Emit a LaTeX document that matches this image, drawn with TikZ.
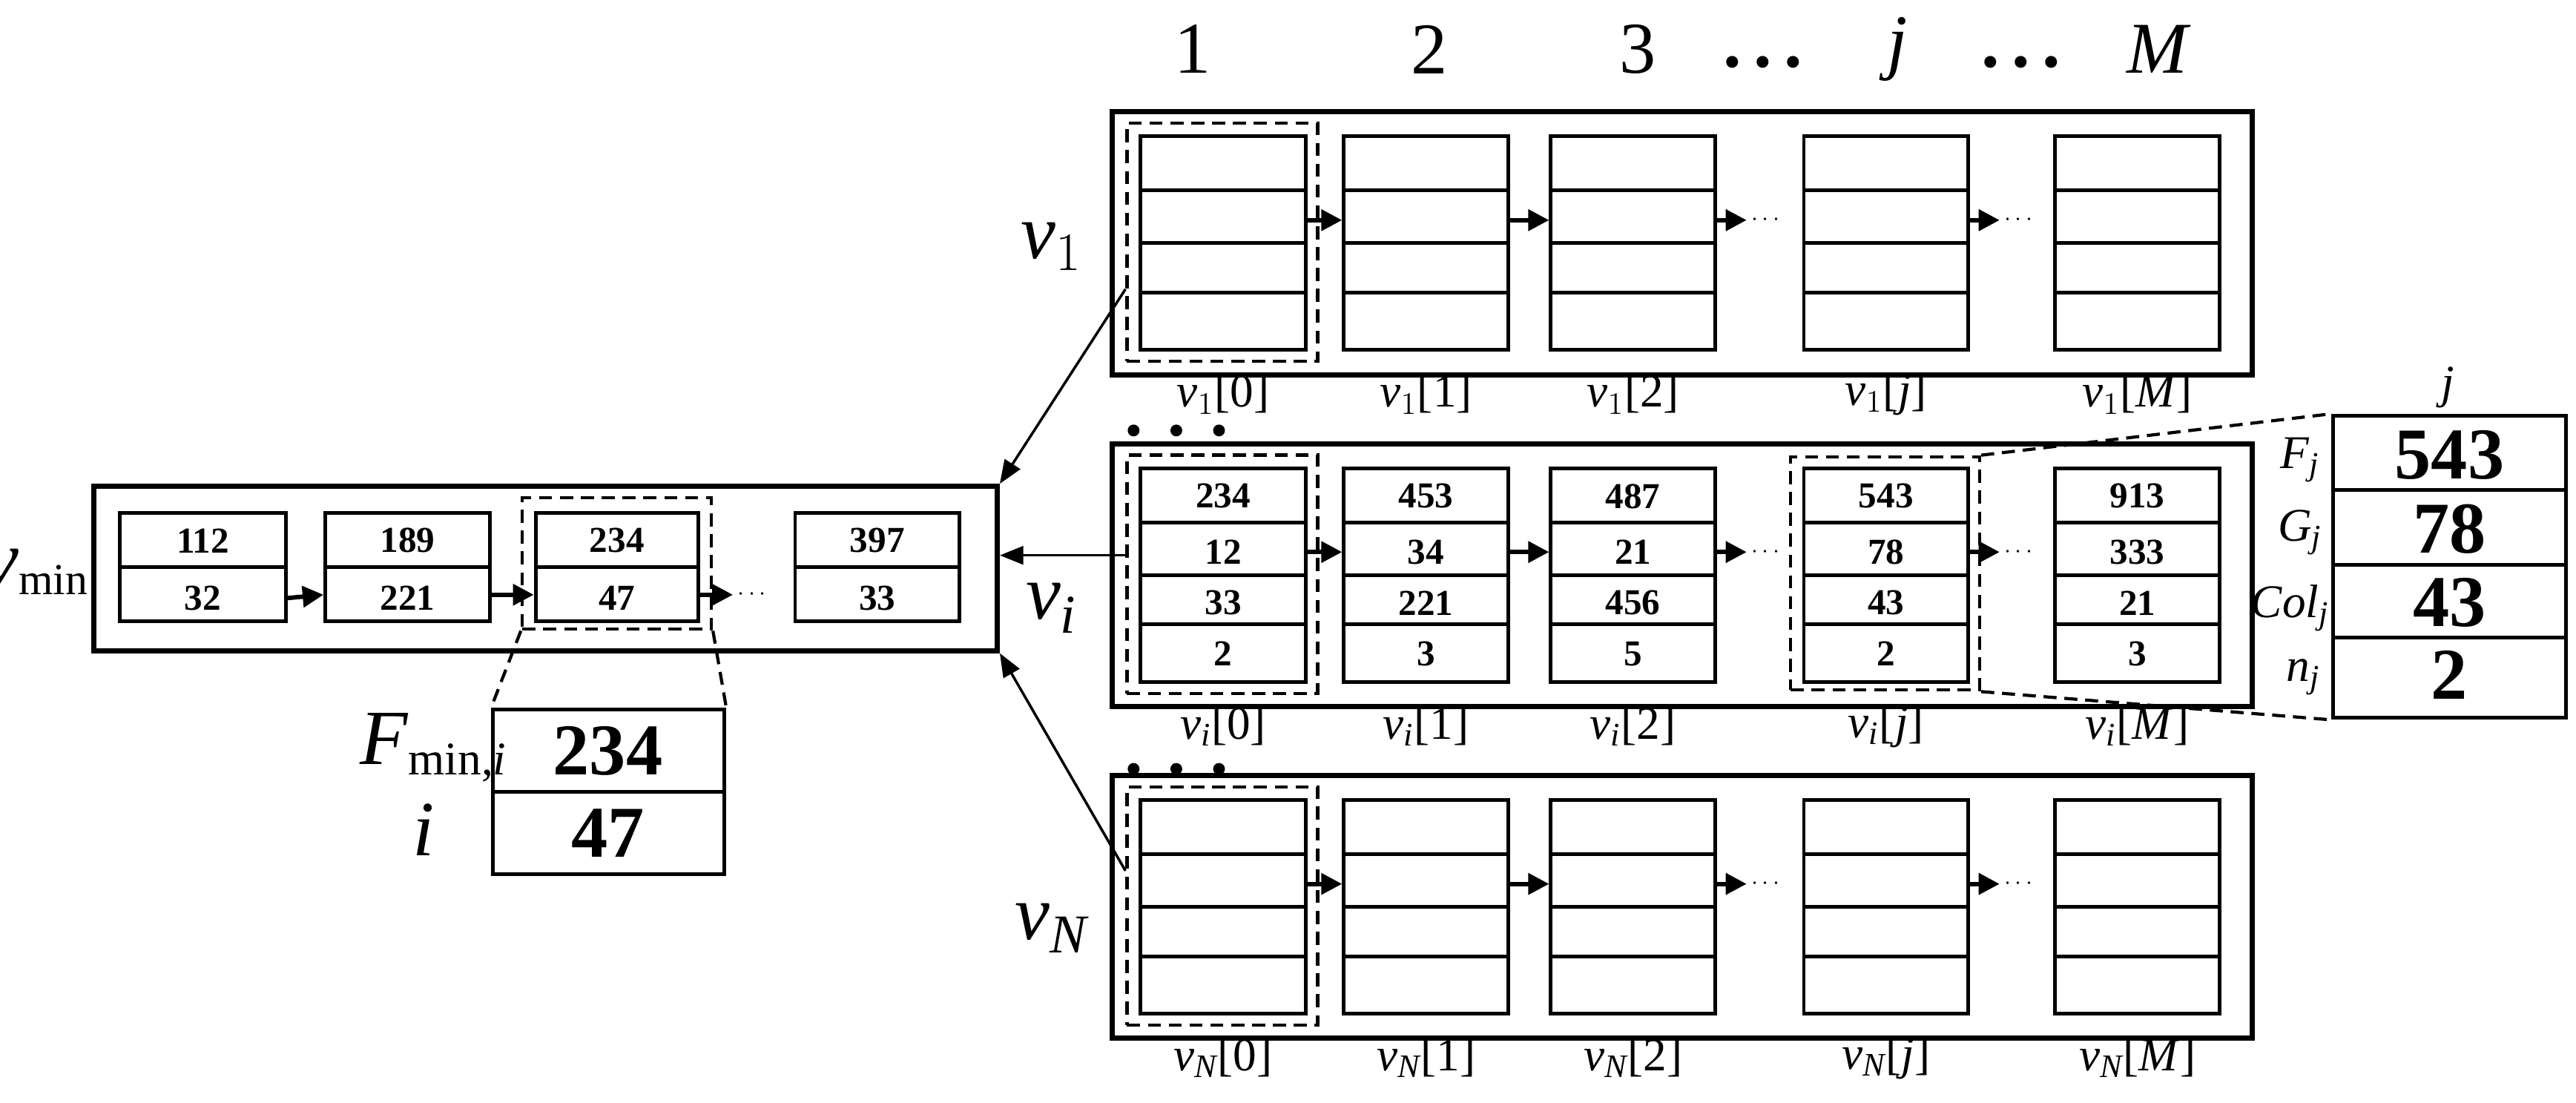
\documentclass[tikz,border=0pt]{standalone}
\usepackage{amsmath}
\usepackage{fontspec}
\setmainfont{Liberation Serif}
\usetikzlibrary{fit,calc,arrows.meta}
\newcommand\iv[1]{\ensuremath{\textit{v}_{#1}}}
\begin{document}
\begin{tikzpicture}[x=0.02215cm,y=-0.02215cm,
  cell/.style={draw,line width=1.4pt,inner sep=0},
  frame/.style={draw,line width=2pt,inner sep=0},
  dbox/.style={draw,dash pattern=on 5pt off 3pt,line width=1.2pt,inner sep=0},
  dline/.style={dash pattern=on 5pt off 3pt,line width=1.2pt},
  arr/.style={-{Triangle[length=8pt,width=8pt]},line width=1.7pt},
  big/.style={-{Triangle[length=9pt,width=7pt]},line width=1pt},
  num/.style={font=\bfseries\fontsize{14}{14}\selectfont},
  bnum/.style={font=\bfseries\fontsize{28}{28}\selectfont},
  lab/.style={font=\fontsize{18}{18}\selectfont},
  rlab/.style={font=\fontsize{30}{30}\selectfont},
  head/.style={font=\fontsize{28}{28}\selectfont}]
\useasboundingbox (0,0) rectangle (1568,671);
% column headers
\foreach \t/\x in {1/726,2/870,3/997,$\textit{j}$/1155,$\textit{M}$/1313}
  \node[head] (h\x) at (\x,30) {\t};
\foreach \x in {1073,1230} \node[head] (hd\x) at (\x,38) {\textbf{.\,.\,.}};
% three rows
\foreach \r/\sb/\y/\ly in {1/1/68/150,i/\textit{i}/270/370,N/\textit{N}/472/565}{
  \node[frame,fit={(677,\y)(1371,\y+160)}] (F\r) {};
  \node[rlab] (L\r) at (640,\ly) {\iv{\sb}};
  \foreach \c/\xa/\xb/\l in {0/694/795/0,1/818/918/1,2/944/1044/2,3/1098/1198/\textit{j},4/1251/1351/\textit{M}}{
    \node[cell,fit={(\xa,\y+15)(\xb,\y+145)}] (c\r\c) {};
    \foreach \s in {48,80,110} \draw[line width=1.4pt] (\xa,\y+\s) -- (\xb,\y+\s);
    \node[lab] (l\r\c) at ({(\xa+\xb)/2},\y+172) {\iv{\sb}[\l]};
  }
  \node[dbox,fit={(686,\y+7)(802,\y+152)}] (D\r) {};
  \draw[arr] ($(c\r0.east)+(0,-14)$) -- ($(c\r1.west)+(0,-14)$);
  \draw[arr] ($(c\r1.east)+(0,-14)$) -- ($(c\r2.west)+(0,-14)$);
  \draw[arr] ($(c\r2.east)+(0,-14)$) -- ++(18,0) node[right,inner sep=1pt,font=\small] (e\r2) {$\cdots$};
  \draw[arr] ($(c\r3.east)+(0,-14)$) -- ++(18,0) node[right,inner sep=1pt,font=\small] (e\r3) {$\cdots$};
}
\foreach \y in {262,468} \foreach \x in {690,716,742} \fill (\x,\y) circle (3.6);
% values in v_i
\foreach \c/\a/\b/\cc/\d in {0/234/12/33/2,1/453/34/221/3,2/487/21/456/5,3/543/78/43/2,4/913/333/21/3}{
  \node[num] at (ci\c.center |- 0,302) {\a};
  \node[num] at (ci\c.center |- 0,336) {\b};
  \node[num] at (ci\c.center |- 0,367) {\cc};
  \node[num] at (ci\c.center |- 0,398) {\d};
}
% zoom of v_i[j]
\node[dbox,fit={(1090,278)(1205,420)}] (Dj) {};
\node[cell,fit={(1420,253)(1562,437)}] (Z) {};
\foreach \s in {298,344,388} \draw[line width=1.4pt] (1420,\s) -- (1562,\s);
\draw[dline] (Dj.north east) -- (Z.north west);
\draw[dline] (Dj.south east) -- (Z.south west);
\node[lab] (zj) at (1490,236) {\textit{j}};
\node[bnum] at (1491,277) {543};
\node[bnum] at (1491,322) {78};
\node[bnum] at (1491,367) {43};
\node[bnum] at (1491,411) {2};
\node[lab] at (1400,280) {\textit{F}$_{\textit{j}}$};
\node[lab] at (1400,324) {\textit{G}$_{\textit{j}}$};
\node[lab] at (1394,370) {\textit{Col}$_{\textit{j}}$};
\node[lab] at (1402,412) {\textit{n}$_{\textit{j}}$};
% v_min
\node[frame,fit={(57,296)(607,396)}] (Fm) {};
\node[rlab,anchor=east,inner sep=1pt] (Lm) at (56,348) {\iv{\text{\fontsize{17}{17}\selectfont min}}};
\foreach \n/\xa/\xb/\a/\b in {1/73/174/112/32,2/198/298/189/221,3/326/425/234/47,4/484/584/397/33}{
  \node[cell,fit={(\xa,312)(\xb,378)}] (m\n) {};
  \draw[line width=1.4pt] (\xa,345) -- (\xb,345);
  \node[num] at ({(\xa+\xb)/2},329) {\a};
  \node[num] at ({(\xa+\xb)/2},364) {\b};
}
\draw[arr] (m1.east |- 0,364) -- (m2.west |- 0,362);
\draw[arr] (m2.east |- 0,362) -- (m3.west |- 0,362);
\draw[arr] (m3.east |- 0,362) -- ++(20,0) node[right,inner sep=1pt,font=\small] (em) {$\cdots$};
\node[dbox,fit={(318,303)(433,383)}] (Dm) {};
\node[cell,fit={(300,432)(441,532)}] (Zm) {};
\draw[line width=1.4pt] (300,482) -- (441,482);
\draw[dline] (Dm.south west) -- (Zm.north west);
\draw[dline] (Dm.south east) -- (Zm.north east);
\node[bnum] at (370,457) {234};
\node[bnum] at (370,507) {47};
\node[font=\fontsize{30}{30}\selectfont] at (264,455) {\textit{F}$_{\text{\fontsize{18}{18}\selectfont min,}\textit{\fontsize{18}{18}\selectfont i}}$};
\node[font=\fontsize{30}{30}\selectfont] at (258,505) {\textit{i}};
% big arrows
\draw[big] (D1.west |- 0,176) -- (Fm.north east);
\draw[big] (Di.west |- 0,338) -- (Fm.east |- 0,338);
\draw[big] (DN.west |- 0,530) -- (Fm.south east);
\end{tikzpicture}
\end{document}
